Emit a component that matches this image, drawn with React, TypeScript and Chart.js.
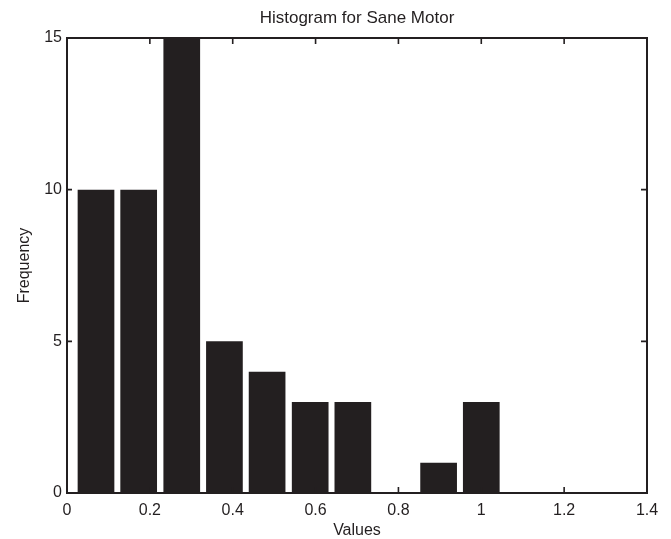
import React, { useEffect, useRef } from "react";
import { Chart, registerables } from "chart.js";

Chart.register(...registerables);

// Bin centers (Values) and counts (Frequency)
const binCenters = [0.070, 0.173, 0.277, 0.380, 0.483, 0.587, 0.690, 0.793, 0.897, 1.000];
const frequencies = [10, 10, 15, 5, 4, 3, 3, 0, 1, 3];
const xTickValues = [0, 0.2, 0.4, 0.6, 0.8, 1, 1.2, 1.4];
const xTickLabels = ["0", "0.2", "0.4", "0.6", "0.8", "1", "1.2", "1.4"];
const yTickValues = [0, 5, 10, 15];
const yTickLabels = ["0", "5", "10", "15"];

const INK = "#231f20";
const FONT = "'Liberation Sans', Arial, Helvetica, sans-serif";

const frameAndTicks = {
  id: "frameAndTicks",
  afterDatasetsDraw(chart: any) {
    const { ctx, chartArea } = chart;
    const { left, right, top, bottom } = chartArea;
    const xs = chart.scales.x;
    const ys = chart.scales.y;
    ctx.save();
    ctx.strokeStyle = INK;
    ctx.lineWidth = 1.6;
    const tl = 6;
    ctx.beginPath();
    xs.ticks.forEach((t: any) => {
      const px = xs.getPixelForValue(t.value);
      ctx.moveTo(px, bottom);
      ctx.lineTo(px, bottom - tl);
      ctx.moveTo(px, top);
      ctx.lineTo(px, top + tl);
    });
    ys.ticks.forEach((t: any) => {
      const py = ys.getPixelForValue(t.value);
      ctx.moveTo(left - 1, py);
      ctx.lineTo(left + tl - 1, py);
      ctx.moveTo(right, py);
      ctx.lineTo(right - tl, py);
    });
    ctx.stroke();
    ctx.lineWidth = 2;
    ctx.strokeRect(left, top, right - left, bottom - top);
    ctx.restore();
  },
};

export default function App() {
  const ref = useRef<HTMLCanvasElement | null>(null);

  useEffect(() => {
    if (!ref.current) return;
    const chart = new Chart(ref.current, {
      type: "bar",
      data: {
        datasets: [
          {
            data: binCenters.map((x, i) => ({ x, y: frequencies[i] })),
            backgroundColor: INK,
            borderWidth: 0,
            barPercentage: 0.86,
            categoryPercentage: 1,
          },
        ],
      },
      plugins: [frameAndTicks],
      options: {
        animation: false,
        responsive: false,
        devicePixelRatio: 1,
        layout: { padding: { left: 0, right: 24, top: 0, bottom: 0 } },
        plugins: {
          legend: { display: false },
          tooltip: { enabled: false },
          title: {
            display: true,
            fullSize: false,
            text: "Histogram for Sane Motor",
            color: INK,
            font: { family: FONT, size: 17, weight: "normal", lineHeight: 1.2 },
            padding: { top: 8.5, bottom: 9.1 },
          },
        },
        scales: {
          x: {
            type: "linear",
            min: 0,
            max: 1.4,
            offset: false,
            afterBuildTicks: (s: any) => {
              s.ticks = xTickValues.map((v) => ({ value: v }));
            },
            afterFit: (s: any) => {
              s.height = 46;
            },
            grid: { display: false, drawTicks: false, tickLength: 0 },
            border: { display: false },
            ticks: {
              color: INK,
              font: { family: FONT, size: 16 },
              padding: 8,
              maxRotation: 0,
              autoSkip: false,
              callback: (_v: any, i: number) => xTickLabels[i],
            },
            title: {
              display: true,
              text: "Values",
              color: INK,
              font: { family: FONT, size: 16, lineHeight: 1.1 },
              padding: { top: 0, bottom: 0 },
            },
          },
          y: {
            type: "linear",
            min: 0,
            max: 15,
            afterBuildTicks: (s: any) => {
              s.ticks = yTickValues.map((v) => ({ value: v }));
            },
            afterFit: (s: any) => {
              s.width = 67;
            },
            grid: { display: false, drawTicks: false, tickLength: 0 },
            border: { display: false },
            ticks: {
              color: INK,
              font: { family: FONT, size: 16 },
              padding: 5,
              callback: (_v: any, i: number) => yTickLabels[i],
            },
            title: {
              display: true,
              text: "Frequency",
              color: INK,
              font: { family: FONT, size: 16, lineHeight: 1.2 },
              padding: { top: 15, bottom: 0 },
            },
          },
        },
      },
    } as any);
    return () => chart.destroy();
  }, []);

  return (
    <div style={{ position: "fixed", left: 0, top: 0, width: 671, height: 539, background: "#fff" }}>
      <canvas ref={ref} width={671} height={539} style={{ display: "block", width: 671, height: 539 }} />
    </div>
  );
}
